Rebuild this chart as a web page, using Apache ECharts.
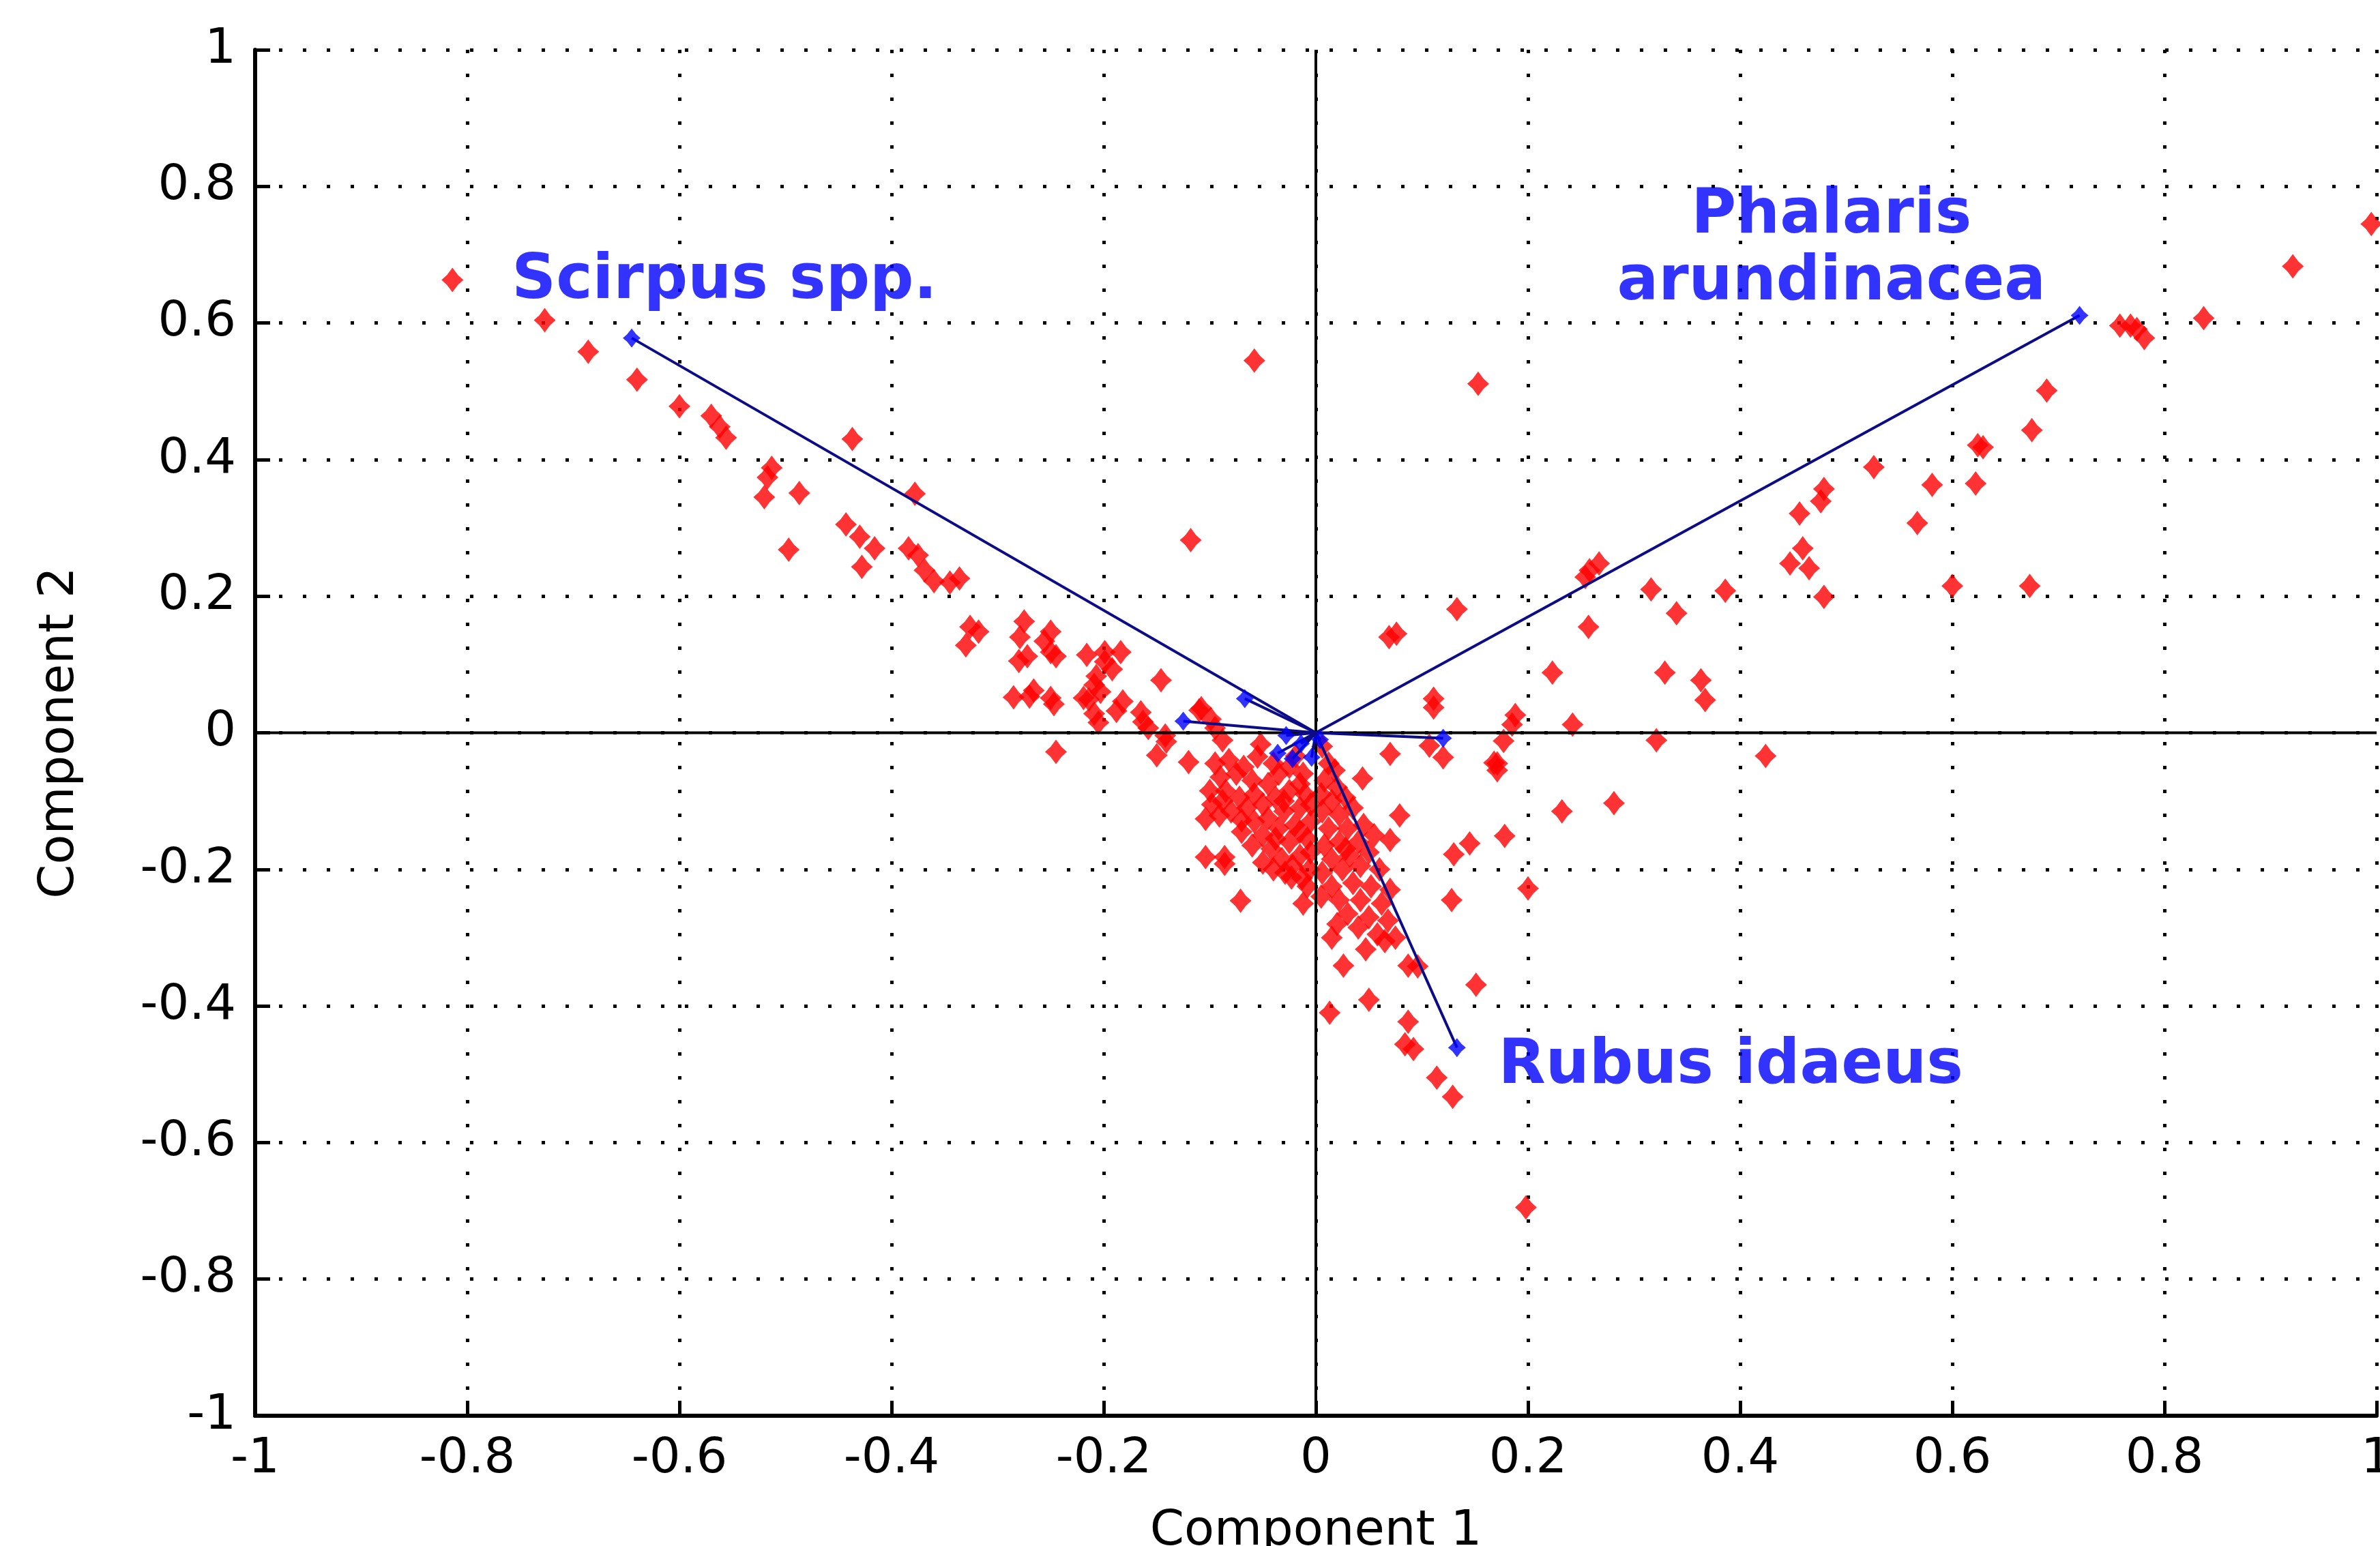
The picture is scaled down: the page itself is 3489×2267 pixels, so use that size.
<!DOCTYPE html>
<html lang="en">
<head>
<meta charset="UTF-8">
<title>Biplot</title>
<script src="https://cdn.jsdelivr.net/npm/echarts@6/dist/echarts.min.js"></script>
<style>
  html, body { margin: 0; padding: 0; background: #fff; }
  #chart { width: 3489px; height: 2267px; }
</style>
</head>
<body>
<div id="chart"></div>
<script>
// tick labels
var xTickLabels = ['-1', '-0.8', '-0.6', '-0.4', '-0.2', '0', '0.2', '0.4', '0.6', '0.8', '1'];
var yTickLabels = ['-1', '-0.8', '-0.6', '-0.4', '-0.2', '0', '0.2', '0.4', '0.6', '0.8', '1'];

var scores = [
  // upper left branch
  [-0.814, 0.663], [-0.727, 0.604], [-0.686, 0.558], [-0.64, 0.517], [-0.6, 0.478],
  [-0.57, 0.464], [-0.562, 0.448], [-0.556, 0.432], [-0.437, 0.43],
  [-0.513, 0.388], [-0.517, 0.374], [-0.52, 0.345], [-0.487, 0.351], [-0.378, 0.35],
  [-0.497, 0.268], [-0.443, 0.305], [-0.43, 0.287], [-0.416, 0.27], [-0.428, 0.243],
  [-0.384, 0.27], [-0.375, 0.26], [-0.369, 0.238], [-0.36, 0.222], [-0.345, 0.22], [-0.336, 0.226],
  [-0.326, 0.155], [-0.33, 0.128], [-0.318, 0.148],
  [-0.275, 0.163], [-0.279, 0.14], [-0.272, 0.112], [-0.256, 0.134], [-0.25, 0.148], [-0.245, 0.112],
  [-0.28, 0.105], [-0.25, 0.118],
  [-0.216, 0.114], [-0.199, 0.118], [-0.184, 0.118], [-0.199, 0.104], [-0.192, 0.093], [-0.207, 0.083],
  [-0.209, 0.07], [-0.203, 0.06],
  [-0.285, 0.052], [-0.27, 0.053], [-0.25, 0.051], [-0.247, 0.042], [-0.266, 0.062], [-0.219, 0.051],
  [-0.214, 0.049], [-0.209, 0.028], [-0.205, 0.015], [-0.188, 0.032], [-0.182, 0.046], [-0.165, 0.03],
  [-0.163, 0.016], [-0.158, 0.007], [-0.146, 0.077], [-0.118, 0.282], [-0.058, 0.545],
  [-0.108, 0.036], [-0.099, 0.02], [-0.11, 0.033], [-0.095, 0.007],
  [-0.245, -0.028], [-0.142, -0.004], [-0.141, -0.013], [-0.15, -0.033], [-0.12, -0.043],
  [-0.088, -0.011], [-0.052, -0.017], [-0.019, -0.034],
  // central cluster, left of the axis
  [-0.095, -0.045], [-0.082, -0.04], [-0.068, -0.05], [-0.06, -0.07], [-0.09, -0.065], [-0.1, -0.085],
  [-0.085, -0.085], [-0.072, -0.095], [-0.058, -0.09], [-0.045, -0.075], [-0.035, -0.06], [-0.025, -0.05],
  [-0.012, -0.06], [-0.098, -0.105], [-0.08, -0.115], [-0.065, -0.11], [-0.05, -0.105], [-0.038, -0.095],
  [-0.025, -0.085], [-0.01, -0.09], [-0.058, -0.13], [-0.045, -0.125], [-0.03, -0.115], [-0.015, -0.11],
  [-0.005, -0.13], [-0.07, -0.145], [-0.05, -0.15], [-0.035, -0.14], [-0.02, -0.135], [-0.06, -0.165],
  [-0.042, -0.17], [-0.025, -0.16], [-0.008, -0.155], [-0.05, -0.19], [-0.032, -0.185], [-0.015, -0.18],
  [-0.04, -0.2], [-0.022, -0.195], [-0.006, -0.2], [-0.008, -0.225], [-0.023, -0.212], [-0.012, -0.25],
  [-0.04, -0.045], [-0.055, -0.035], [-0.075, -0.06], [-0.088, -0.1], [-0.07, -0.128], [-0.03, -0.1],
  [-0.015, -0.075], [-0.005, -0.105], [-0.038, -0.155], [-0.015, -0.145], [-0.005, -0.175],
  [-0.104, -0.126], [-0.091, -0.121], [-0.104, -0.182], [-0.086, -0.182], [-0.086, -0.192],
  [-0.029, -0.205], [-0.013, -0.213], [-0.071, -0.246],
  // central cluster, right of the axis
  [0.006, -0.02], [0.012, -0.045], [0.008, -0.07], [0.02, -0.08], [0.015, -0.1], [0.028, -0.095],
  [0.006, -0.115], [0.022, -0.12], [0.035, -0.11], [0.012, -0.14], [0.03, -0.14], [0.045, -0.135],
  [0.008, -0.165], [0.022, -0.16], [0.04, -0.16], [0.055, -0.15], [0.015, -0.185], [0.032, -0.18],
  [0.05, -0.175], [0.006, -0.205], [0.025, -0.2], [0.042, -0.195], [0.06, -0.2], [0.015, -0.225],
  [0.035, -0.22], [0.052, -0.225], [0.07, -0.23], [0.022, -0.245], [0.042, -0.245], [0.062, -0.25],
  [0.03, -0.265], [0.05, -0.27], [0.068, -0.275], [0.04, -0.285], [0.02, -0.28], [0.058, -0.295],
  [0.075, -0.3], [0.015, -0.3], [0.005, -0.09], [0.018, -0.055], [0.028, -0.17], [0.005, -0.24],
  // lower right, toward Rubus
  [0.013, -0.41], [0.05, -0.391], [0.087, -0.423], [0.084, -0.456], [0.092, -0.463], [0.114, -0.505],
  [0.129, -0.533], [0.151, -0.369], [0.128, -0.245], [0.2, -0.228], [0.178, -0.151], [0.232, -0.115],
  [0.168, -0.044], [0.065, -0.305], [0.047, -0.317], [0.026, -0.341], [0.087, -0.341], [0.096, -0.342],
  [0.145, -0.162], [0.13, -0.178], [0.07, -0.157], [0.079, -0.121], [0.044, -0.067], [0.07, -0.031],
  [0.12, -0.036], [0.198, -0.695], [0.281, -0.103],
  // right branch
  [0.424, -0.034], [0.321, -0.011], [0.171, -0.045], [0.171, -0.055], [0.177, -0.012], [0.107, -0.019],
  [0.185, 0.012], [0.188, 0.026], [0.242, 0.012], [0.111, 0.05], [0.111, 0.037], [0.367, 0.048],
  [0.363, 0.077], [0.329, 0.088], [0.223, 0.088], [0.257, 0.155], [0.133, 0.181], [0.34, 0.175],
  [0.386, 0.208], [0.316, 0.21], [0.254, 0.228], [0.258, 0.238], [0.267, 0.248], [0.479, 0.199],
  [0.465, 0.241], [0.447, 0.248], [0.459, 0.27], [0.456, 0.321], [0.476, 0.339], [0.479, 0.357],
  [0.153, 0.511], [0.069, 0.14], [0.076, 0.145],
  [0.6, 0.215], [0.673, 0.215], [0.567, 0.307], [0.581, 0.363], [0.622, 0.365], [0.526, 0.389],
  [0.624, 0.421], [0.629, 0.418], [0.675, 0.443], [0.689, 0.501], [0.758, 0.596], [0.768, 0.596],
  [0.774, 0.591], [0.781, 0.578], [0.837, 0.607], [0.921, 0.683], [0.995, 0.745]
];

// variable loadings (vector tips)
var loadings = [
  [-0.645, 0.578], [0.72, 0.611], [0.133, -0.461], [-0.067, 0.05], [-0.125, 0.017], [0.12, -0.008],
  [-0.036, -0.03], [-0.022, -0.038], [-0.004, -0.036], [-0.014, -0.016], [0.004, -0.01], [-0.028, -0.004]
];

// variable names written on the plot
var varLabels = [
  { text: 'Scirpus spp.', at: [-0.758, 0.66], align: 'left' },
  { text: 'Phalaris', at: [0.486, 0.756], align: 'center' },
  { text: 'arundinacea', at: [0.486, 0.658], align: 'center' },
  { text: 'Rubus idaeus', at: [0.172, -0.489], align: 'left' }
];

var star = 'path://M10,0 L15,6 L20,10 L15,14 L10,20 L5,14 L0,10 L5,6 Z';
var labelFont = 'DejaVu Sans';

function tickFmt(list) {
  return function (v) { return list[Math.round((v + 1) / 0.2)]; };
}

function axisOpt(name, labels, gap) {
  return {
    type: 'value',
    min: -1,
    max: 1,
    interval: 0.2,
    name: name,
    nameLocation: 'middle',
    nameGap: gap,
    nameTextStyle: { color: '#000', fontSize: 72, fontFamily: labelFont },
    axisLine: { show: true, onZero: false, lineStyle: { color: '#000', width: 6 } },
    axisTick: { show: true, inside: true, length: 22, lineStyle: { color: '#000', width: 5 } },
    axisLabel: {
      formatter: tickFmt(labels), color: '#000', fontSize: 72, fontFamily: labelFont,
      margin: 28, showMinLabel: true, showMaxLabel: true
    },
    splitLine: { show: true, lineStyle: { color: '#000', width: 5, type: [5, 30] } }
  };
}

var series = [];
series.push({
  type: 'scatter', data: scores, symbol: star, symbolSize: [32, 36],
  itemStyle: { color: '#ff0000' }, z: 2, silent: true
});
// zero lines
series.push({ type: 'line', data: [[-1, 0], [1, 0]], symbol: 'none', lineStyle: { color: '#000', width: 4 }, z: 3, silent: true });
series.push({ type: 'line', data: [[0, -1], [0, 1]], symbol: 'none', lineStyle: { color: '#000', width: 4 }, z: 3, silent: true });
loadings.forEach(function (p) {
  series.push({
    type: 'line', data: [[0, 0], p], symbol: 'none',
    lineStyle: { color: '#0c0c88', width: 4 }, z: 4, silent: true
  });
});
series.push({
  type: 'scatter', data: loadings, symbol: star, symbolSize: [26, 28],
  itemStyle: { color: '#0000ff' }, z: 5, silent: true
});
series.push({
  type: 'scatter', symbolSize: 0, z: 6, silent: true,
  data: varLabels.map(function (l) {
    return {
      value: l.at,
      label: {
        show: true, formatter: l.text, position: [0, 0], align: l.align, verticalAlign: 'middle',
        color: '#0000ff', fontSize: 90, fontWeight: 'bold', fontFamily: labelFont
      }
    };
  })
});

var myChart = echarts.init(document.getElementById('chart'));
var option = {
  backgroundColor: '#fff',
  animation: false,
  grid: { left: 374, right: 5, top: 73, bottom: 191, containLabel: false, outerBoundsMode: 'none' },
  xAxis: axisOpt('Component 1', xTickLabels, 134),
  yAxis: axisOpt('Component 2', yTickLabels, 250),
  series: series
};
myChart.setOption(option);
</script>
</body>
</html>
